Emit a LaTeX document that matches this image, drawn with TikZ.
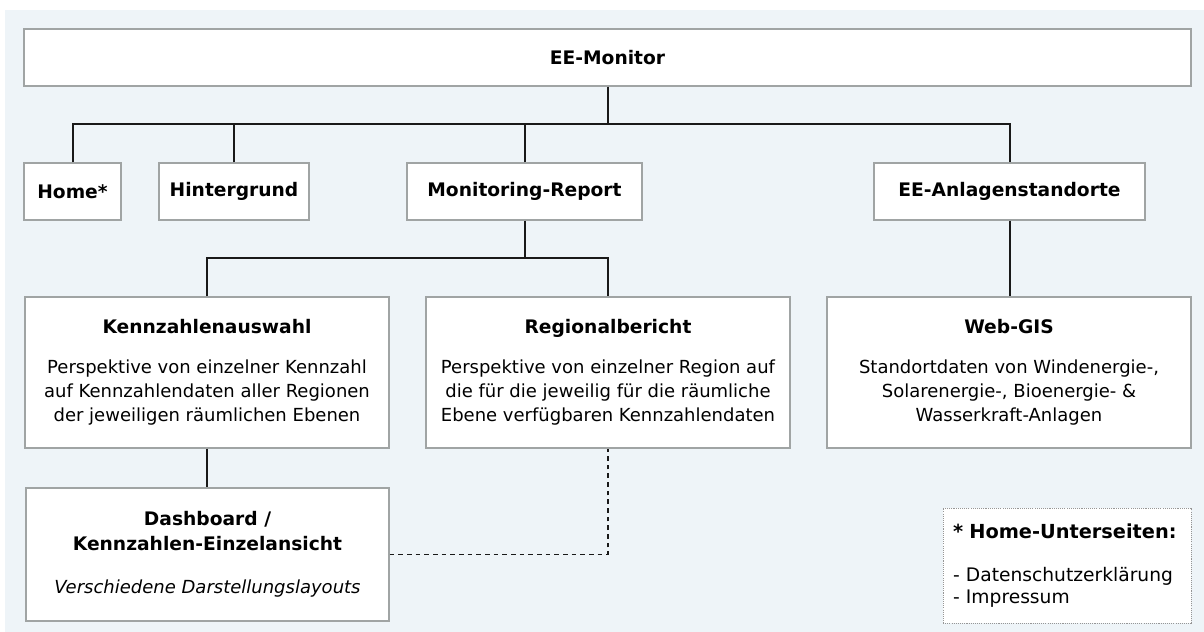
\documentclass[tikz,border=0pt]{standalone}
\usepackage{fontspec}
\setmainfont{DejaVu Sans}
\definecolor{bgc}{RGB}{238,244,248}
\definecolor{bord}{RGB}{160,164,164}
\definecolor{connc}{RGB}{25,25,25}
\definecolor{legb}{RGB}{150,150,150}
\begin{document}
\begin{tikzpicture}[x=0.75pt,y=-0.75pt,
  box/.style={draw=bord, fill=white, line width=1.1pt, inner sep=0pt, align=center,
    font=\fontsize{13.5}{18}\selectfont},
  small/.style={box, minimum height=42.75pt, font=\fontsize{14}{18}\selectfont\bfseries},
  big/.style={box, minimum width=273pt, minimum height=113.25pt},
  conn/.style={draw=connc, line width=1.5pt},
  dashconn/.style={draw=connc, line width=1.1pt, dash pattern=on 3.5pt off 3pt},
  legend/.style={draw=legb, fill=white, line width=0.6pt, dash pattern=on 0.8pt off 0.8pt,
    inner xsep=7.5pt, inner ysep=0pt, align=left, text width=171pt,
    minimum width=186pt, minimum height=86.25pt, font=\fontsize{14}{16.5}\selectfont}]
\useasboundingbox (0,0) rectangle (1204,632);
\fill[bgc] (5,10) rectangle (1204,632);

\node[small, minimum width=875.25pt] (mon) at (607.5,57.5) {EE-Monitor};
\node[small, minimum width=72.75pt] (home) at (72.5,191.5) {Home*};
\node[small, minimum width=112.5pt] (hint) at (234,191.5) {Hintergrund};
\node[small, minimum width=176.25pt] (mr) at (524.5,191.5) {Monitoring-Report};
\node[small, minimum width=203.25pt] (eea) at (1009.5,191.5) {EE-Anlagenstandorte};

\node[big] (kz) at (207,372.5) {{\fontsize{14}{18}\selectfont\bfseries Kennzahlenauswahl}\\[12pt]
  Perspektive von einzelner Kennzahl\\
  auf Kennzahlendaten aller Regionen\\
  der jeweiligen räumlichen Ebenen};
\node[big] (rb) at (608,372.5) {{\fontsize{14}{18}\selectfont\bfseries Regionalbericht}\\[12pt]
  Perspektive von einzelner Region auf\\
  die für die jeweilig für die räumliche\\
  Ebene verfügbaren Kennzahlendaten};
\node[big] (web) at (1009,372.5) {{\fontsize{14}{18}\selectfont\bfseries Web-GIS}\\[12pt]
  Standortdaten von Windenergie-,\\
  Solarenergie-, Bioenergie- \&\\
  Wasserkraft-Anlagen};
\node[box, minimum width=272.25pt, minimum height=99.75pt] (db) at (207.5,554.5)
  {{\fontsize{14}{18}\selectfont\bfseries Dashboard /}\\[0.75pt]
   {\fontsize{14}{18}\selectfont\bfseries Kennzahlen-Einzelansicht}\\[14pt]
   \textit{Verschiedene Darstellungslayouts}};
\node[legend] (leg) at (1067,565.5)
  {\hyphenpenalty=10000{\bfseries\fontsize{14.5}{18}\selectfont * Home-Unterseiten:}\\[16pt]
   - Datenschutzerklärung\\
   - Impressum};

\coordinate (bus) at (0,124);
\coordinate (bus2) at (0,258);
\draw[conn] (mon.south) -- (mon.south |- bus);
\draw[conn] (home.north) |- (eea.north |- bus) -- (eea.north);
\draw[conn] (hint.north) -- (hint.north |- bus);
\draw[conn] (mr.north) -- (mr.north |- bus);
\draw[conn] (mr.south) -- (mr.south |- bus2);
\draw[conn] (kz.north) |- (rb.north |- bus2) -- (rb.north);
\draw[conn] (eea.south) -- (eea.south |- web.north);
\draw[conn] (kz.south) -- (kz.south |- db.north);
\draw[dashconn] (db.east) -| (rb.south);
\end{tikzpicture}
\end{document}
